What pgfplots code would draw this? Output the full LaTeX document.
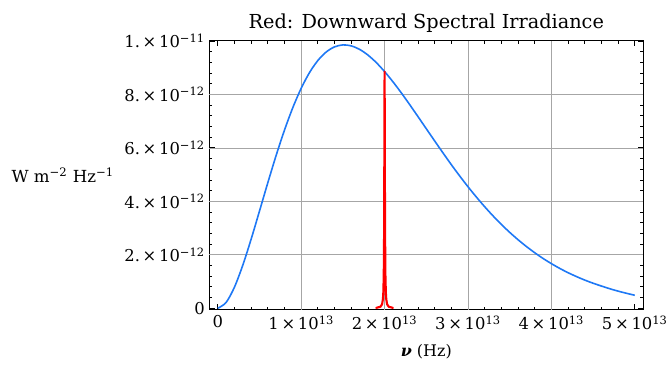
\documentclass[border=0pt]{standalone}
\usepackage{fontspec}
\setmainfont{DejaVu Serif}
\usepackage{pgfplots}
\pgfplotsset{compat=1.18}
\definecolor{mblue}{RGB}{30,120,245}
\begin{document}
\begin{tikzpicture}
\begin{axis}[
  scale only axis,
  width=326pt, height=202pt,
  xmin=-0.1, xmax=5.1, ymin=-0.05, ymax=10,
  axis line style={line width=0.8pt},
  xtick={0,1,2,3,4,5},
  xticklabels={0,{1\,×\,10\textsuperscript{13}},{2\,×\,10\textsuperscript{13}},{3\,×\,10\textsuperscript{13}},{4\,×\,10\textsuperscript{13}},{5\,×\,10\textsuperscript{13}}},
  ytick={0,2,4,6,8,10},
  yticklabels={0,{2.\,×\,10\textsuperscript{−12}},{4.\,×\,10\textsuperscript{−12}},{6.\,×\,10\textsuperscript{−12}},{8.\,×\,10\textsuperscript{−12}},{1.\,×\,10\textsuperscript{−11}}},
  minor x tick num=4, minor y tick num=4,
  tick align=inside, tick pos=both,
  major tick length=4pt, minor tick length=2.2pt,
  tick style={black, line width=0.6pt},
  grid=none,
  extra x ticks={1,2,3,4}, extra x tick labels={},
  extra y ticks={2,4,6,8}, extra y tick labels={},
  extra tick style={grid=major, major grid style={gray!70, line width=0.5pt}, major tick length=0pt},
  ticklabel style={font=\fontsize{12.3}{14}\selectfont},
  xticklabel style={yshift=-1pt},
  title={Red: Downward Spectral Irradiance},
  title style={font=\fontsize{14.5}{16}\selectfont, yshift=-3pt},
  xlabel={{\bfseries\itshape ν} (Hz)},
  xlabel style={font=\fontsize{12}{14}\selectfont, yshift=-4pt},
  ylabel={W m\textsuperscript{−2} Hz\textsuperscript{−1}},
  ylabel style={font=\fontsize{12.5}{14}\selectfont, rotate=-90, anchor=east, at={(ticklabel cs:0.5)}, xshift=-1pt},
  clip=true,
]
\addplot[mblue, line width=1.2pt, smooth] coordinates {
(0,0) (0.1,0.219) (0.2,0.793) (0.3,1.615) (0.4,2.589) (0.5,3.638) (0.6,4.699)
(0.7,5.722) (0.8,6.667) (0.9,7.509) (1.0,8.229) (1.1,8.817) (1.2,9.268) (1.3,9.586) (1.4,9.777)
(1.5,9.850) (1.6,9.814) (1.7,9.683) (1.8,9.471) (1.9,9.190) (2.0,8.852) (2.1,8.471) (2.2,8.058)
(2.3,7.621) (2.4,7.170) (2.5,6.715) (2.6,6.260) (2.7,5.812) (2.8,5.372) (2.9,4.950) (3.0,4.546)
(3.1,4.162) (3.2,3.798) (3.3,3.456) (3.4,3.136) (3.5,2.839) (3.6,2.564) (3.7,2.311)
(3.8,2.077) (3.9,1.863) (4.0,1.669) (4.1,1.491) (4.2,1.330) (4.3,1.186) (4.4,1.054)
(4.5,0.936) (4.6,0.830) (4.7,0.730) (4.8,0.640) (4.9,0.560) (5.0,0.485)
};
\addplot[red, line width=1.6pt, line join=round, line cap=round] coordinates {
(1.90,0.014) (1.95,0.056) (1.97,0.15) (1.98,0.34) (1.985,0.59) (1.99,1.22)
(1.994,2.72) (1.996,4.43) (1.998,7.08) (2.0,8.85) (2.002,7.08) (2.004,4.43) (2.006,2.72)
(2.01,1.22) (2.015,0.59) (2.02,0.34) (2.03,0.15) (2.05,0.056) (2.10,0.014)
};
\end{axis}
\path ([shift={(-157.5pt,-45.75pt)}]current axis.south west) rectangle ([shift={(20.25pt,30.75pt)}]current axis.north east);
\end{tikzpicture}
\end{document}
